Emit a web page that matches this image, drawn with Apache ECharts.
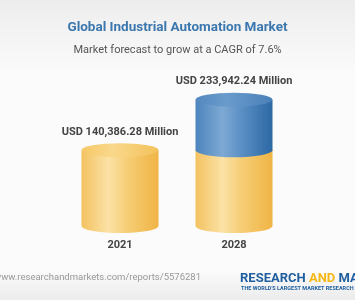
<!DOCTYPE html>
<html><head><meta charset="utf-8">
<script src="https://cdn.jsdelivr.net/npm/echarts@6/dist/echarts.min.js"></script>
<style>html,body{margin:0;padding:0;background:#fff}#c{width:355px;height:300px}</style>
</head><body><div id="c"></div>
<script>
var years = ['2021', '2028'];
var values = [140386.28, 233942.24];
var labels = ['USD 140,386.28 Million', 'USD 233,942.24 Million'];
var baseValue = values[0];

var chart = echarts.init(document.getElementById('c'), null, {renderer: 'canvas'});

function hGrad(stops) {
  return {type: 'linear', x: 0, y: 0, x2: 1, y2: 0,
    colorStops: stops.map(function (s) { return {offset: s[0], color: s[1]}; })};
}
var yellowBody = hGrad([[0, '#f3c260'], [0.35, '#fbe2a6'], [0.6, '#f6cd74'], [1, '#f0b445']]);
var blueBody = hGrad([[0, '#4d84bc'], [0.35, '#7ea9d4'], [0.6, '#5a8fc4'], [1, '#2c68a4']]);
var yellowTop = hGrad([[0, '#f5c865'], [0.4, '#f9d88c'], [1, '#f3c15a']]);
var blueTop = hGrad([[0, '#5388bf'], [0.4, '#6a9bcc'], [1, '#4a80b8']]);

function bodyPath(xl, xr, yt, yb, ry) {
  var rx = (xr - xl) / 2;
  return 'M' + xl + ' ' + yt + ' L' + xl + ' ' + yb + ' A' + rx + ' ' + ry + ' 0 0 0 ' + xr + ' ' + yb +
    ' L' + xr + ' ' + yt + ' Z';
}
function ellipsePath(cx, cy, rx, ry) {
  return 'M' + (cx - rx) + ' ' + cy + ' A' + rx + ' ' + ry + ' 0 1 0 ' + (cx + rx) + ' ' + cy +
    ' A' + rx + ' ' + ry + ' 0 1 0 ' + (cx - rx) + ' ' + cy + ' Z';
}

function renderItem(params, api) {
  var idx = api.value(0);
  var v = api.value(1);
  var p0 = api.coord([idx, 0]);
  var pb = api.coord([idx, Math.min(v, baseValue)]);
  var pv = api.coord([idx, v]);
  var w = 77, ry = 7;
  var cx = p0[0], xl = cx - w / 2, xr = cx + w / 2;
  var children = [];
  children.push({type: 'path', shape: {pathData: bodyPath(xl, xr, pb[1], p0[1], ry)},
    style: {fill: yellowBody}});
  var topColor = yellowTop;
  if (v > baseValue) {
    children.push({type: 'path', shape: {pathData: bodyPath(xl, xr, pv[1], pb[1], ry)},
      style: {fill: blueBody}});
    topColor = blueTop;
  }
  children.push({type: 'path', shape: {pathData: ellipsePath(cx, pv[1], w / 2, ry)},
    style: {fill: topColor}});
  children.push({type: 'text', x: cx, y: pv[1] - ry - 11,
    style: {text: labels[idx], fill: '#444', font: 'bold 11px Roboto', align: 'center', verticalAlign: 'middle'}});
  return {type: 'group', children: children};
}

chart.setOption({
  backgroundColor: {type: 'linear', x: 0, y: 0, x2: 0, y2: 1,
    colorStops: [{offset: 0, color: '#ededed'}, {offset: 0.25, color: '#fbfbfb'}, {offset: 0.9, color: '#fbfbfb'}, {offset: 1, color: '#ececec'}]},
  animation: false,
  title: [
    {text: 'Global Industrial Automation Market', left: 'center', top: 16,
      textStyle: {color: '#3b77ae', fontSize: 13.5, fontWeight: 'bold', fontFamily: 'Roboto'}},
    {text: 'Market forecast to grow at a CAGR of 7.6%', left: 'center', top: 40,
      textStyle: {color: '#555', fontSize: 11, fontWeight: 'normal', fontFamily: 'Roboto'}}
  ],
  grid: {left: 63, right: 64, top: 91, bottom: 74},
  xAxis: {type: 'category', data: years, axisLine: {show: false}, axisTick: {show: false},
    axisLabel: {margin: 14, color: '#444', fontWeight: 'bold', fontSize: 11, fontFamily: 'Roboto'}},
  yAxis: {type: 'value', min: 0, max: 250000, show: false, splitLine: {show: false}},
  series: [{type: 'custom', renderItem: renderItem, clip: false,
    data: values.map(function (v, i) { return [i, v]; })}],
  graphic: [
    {type: 'text', x: -6, y: 278, style: {text: 'www.researchandmarkets.com/reports/5576281',
      fill: '#999', font: '9.5px Roboto', verticalAlign: 'middle'}},
    {type: 'text', x: 240, y: 279, style: {
      text: '{b|RESEARCH }{o|AND }{b|MARKETS}', verticalAlign: 'middle',
      rich: {b: {fill: '#1f5f9f', font: 'bold 13px Roboto'}, o: {fill: '#f6b817', font: 'bold 13px Roboto'}}}},
    {type: 'text', x: 241, y: 289, style: {text: "THE WORLD'S LARGEST MARKET RESEARCH STORE",
      fill: '#1f5f9f', font: 'bold 5.5px Roboto', verticalAlign: 'middle'}}
  ]
});
</script></body></html>
